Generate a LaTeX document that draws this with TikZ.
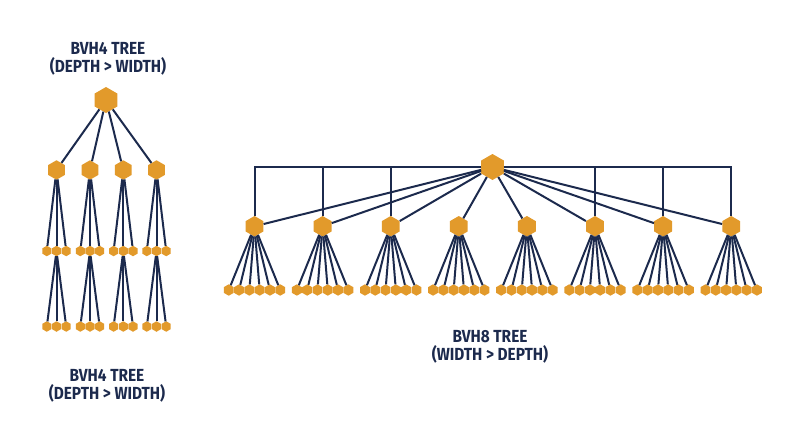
\documentclass[tikz,border=0pt]{standalone}
\usepackage{fontspec}
\newfontfamily\titlefont{Fira Sans}[FakeStretch=0.88]
\usepackage{tikz}
\usetikzlibrary{shapes.geometric}
\definecolor{navy}{HTML}{1C2A4D}
\definecolor{gold}{HTML}{E29A2B}
\tikzset{
 hex/.style={regular polygon, regular polygon sides=6, shape border rotate=30, fill=gold, inner sep=0pt, minimum size=#1},
 edge/.style={draw=navy, line width=2pt},
 title/.style={text=navy, align=center, inner sep=0pt, font=\titlefont\bfseries\fontsize{17.5}{17.5}\selectfont}
}
\begin{document}
\begin{tikzpicture}[x=1pt,y=-1pt]
\useasboundingbox (0,0) rectangle (800,447);
\node[title] (t1) at (108,59) {BVH4 TREE\\(DEPTH > WIDTH)};
\node[title] (t2) at (107,386) {BVH4 TREE\\(DEPTH > WIDTH)};
\node[title] (t3) at (490,347) {BVH8 TREE\\(WIDTH > DEPTH)};
% bvh4
\node[hex=26pt] (r) at (106,100) {};
\foreach \i/\x in {1/56.5,2/90,3/123.3,4/156.5}{
 \node[hex=19.5pt] (c\i) at (\x,170) {};
 \draw[edge] (r) to (c\i);
 \foreach \j/\d in {1/-9.7,2/0,3/9.7}{
  \node[hex=10.5pt] (m\i\j) at (\x+\d,251) {};
  \node[hex=10.5pt] (b\i\j) at (\x+\d,326.5) {};
  \draw[edge] (c\i) to (m\i\j);
 }
 \foreach \j in {1,2,3}
  \draw[edge] (m\i2) to (b\i\j);
}
% bvh8
\node[hex=26pt] (R) at (492.5,167) {};
\foreach \i in {0,...,7}{
 \pgfmathsetmacro\x{254.5+68.1*\i}
 \node[hex=20.6pt] (C\i) at (\x,226.3) {};
 \draw[edge] (R) to (C\i);
 \foreach \j/\d in {1/-25.75,2/-15.45,3/-5.15,4/5.15,5/15.45,6/25.75}{
  \node[hex=11.4pt] (L\i\j) at (\x+\d,290) {};
  \draw[edge] (C\i) to (L\i\j);
 }
}
\foreach \i in {0,1,2,5,6,7}
 \draw[edge] (R) -| (C\i);
\end{tikzpicture}
\end{document}
